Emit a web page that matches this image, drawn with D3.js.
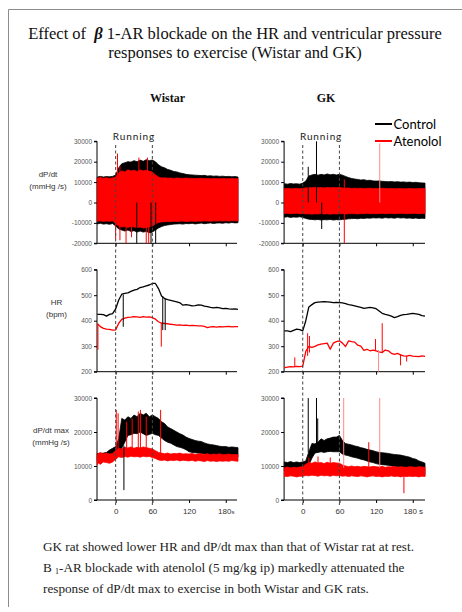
<!DOCTYPE html>
<html>
<head>
<meta charset="utf-8">
<script src="https://cdn.jsdelivr.net/npm/d3@7/dist/d3.min.js"></script>
<style>
  html, body { margin: 0; padding: 0; background: #fff; }
  svg { display: block; }
</style>
</head>
<body>
<svg id="chart" width="462" height="612"></svg>
<script>
// ---- time grid (s, running starts at 0 and stops at 60) ----
const seconds = [-30, -25, -20, -15, -10, -5,
  0, 5, 10, 15, 20, 25, 30, 35, 40, 45, 50, 55,
  60, 65, 70, 75, 80, 85, 90, 95, 100, 105, 110, 115,
  120, 125, 130, 135, 140, 145, 150, 155, 160, 165, 170, 175,
  180, 185, 190, 195, 200];
const runningMarks = [0, 60];
const xTicks = [0, 60, 120, 180];
const dpdtTicks = [30000, 20000, 10000, 0, -10000, -20000];
const hrTicks = [600, 500, 400, 300, 200];
const dpdtMaxTicks = [30000, 20000, 10000, 0];
const groups = ["Wistar", "GK"];
const seriesNames = ["Control", "Atenolol"];

// ---- Wistar dP/dt envelope (mmHg/s) ----
const wistarDpdtCtrlHi = [12500, 12800, 12500, 12700, 12600, 12800,
  13500, 17000, 19000, 19500, 20000, 19800, 20500, 20000, 20800, 20200, 21000, 20500,
  20800, 20000, 18500, 17500, 17000, 16200, 15800, 15200, 15000, 14500, 14200, 13800,
  13600, 13500, 13400, 13300, 13200, 13300, 13000, 13100, 12900, 13000, 12800, 12900,
  12700, 12800, 12600, 12700, 12500];
const wistarDpdtCtrlLo = [-10500, -10200, -10600, -10400, -10700, -10300,
  -11500, -13000, -13500, -14000, -13500, -14200, -13800, -14500, -14000, -14500, -14200, -14800,
  -14500, -13500, -12500, -11800, -11300, -11000, -10800, -10600, -10500, -10400, -10600, -10300,
  -10400, -10200, -10500, -10300, -10100, -10400, -10200, -10000, -10300, -10100, -10000, -10200,
  -9900, -10100, -9800, -10000, -9900];
const wistarDpdtAtenHi = [12000, 12200, 11900, 12100, 11800, 12000,
  12500, 14500, 15500, 15000, 16000, 15500, 15800, 15200, 16000, 15500, 15800, 15300,
  15000, 13500, 12500, 12000, 12100, 11900, 12000, 11800, 12000, 11900, 11800, 12000,
  11800, 11900, 11700, 11800, 11900, 11700, 11800, 11600, 11800, 11700, 11600, 11800,
  11700, 11600, 11800, 11600, 11700];
const wistarDpdtAtenLo = [-9200, -9000, -9300, -9100, -9200, -9000,
  -10500, -11500, -12000, -11800, -12200, -11800, -12000, -12300, -12000, -12500, -12200, -12000,
  -11500, -10500, -9800, -9500, -9400, -9300, -9400, -9200, -9300, -9200, -9100, -9300,
  -9200, -9100, -9300, -9100, -9200, -9000, -9100, -9200, -9000, -9100, -9000, -9100,
  -9000, -9100, -8900, -9000, -9000];
// spikes: [time, from, to]
const wistarDpdtCtrlSpikes = [[34.5, -20000, 0], [57.8, -20000, 0], [65.4, -20000, 0]];
const wistarDpdtAtenSpikes = [[3, 0, 24000], [7, 0, 18000], [38, 0, 22000], [52, 0, 22000],
  [0, -18000, 0], [7, -18500, 0], [17, -20000, 0], [26, -17000, 0], [50, -20000, 0], [54, -20000, 0]];

// ---- GK dP/dt envelope (mmHg/s) ----
const gkDpdtCtrlHi = [9200, 9000, 9300, 9100, 9200, 9000,
  9500, 10500, 13000, 13500, 13800, 13400, 13800, 13500, 14000, 13600, 13800, 13500,
  13800, 13400, 12800, 12200, 11800, 11500, 11300, 11000, 11200, 10800, 10900, 10600,
  10500, 10600, 10400, 10300, 10200, 10300, 10100, 10200, 10000, 10100, 9900, 10000,
  9800, 9900, 9700, 9600, 9500];
const gkDpdtCtrlLo = [-7200, -7000, -7300, -7100, -7200, -7000,
  -7300, -7800, -8200, -8300, -8500, -8300, -8600, -8400, -8500, -8300, -8600, -8400,
  -8500, -8300, -8200, -8000, -7900, -7800, -8000, -7700, -7800, -7600, -7700, -7500,
  -7600, -7500, -7700, -7400, -7600, -7500, -7700, -7400, -7600, -7500, -7700, -7600,
  -7800, -7600, -7900, -7700, -7800];
const gkDpdtAtenHi = [6800, 6900, 6700, 6800, 6900, 6700,
  6900, 7100, 7300, 7200, 7400, 7200, 7300, 7100, 7400, 7200, 7300, 7200,
  7300, 7100, 7000, 7100, 6900, 7000, 6900, 7000, 6800, 6900, 7000, 6800,
  6900, 6800, 7000, 6900, 6800, 6900, 6700, 6800, 6900, 6700, 6800, 6900,
  6800, 6700, 6800, 6900, 6800];
const gkDpdtAtenLo = [-5400, -5300, -5500, -5400, -5300, -5500,
  -5400, -5600, -5500, -5700, -5500, -5600, -5400, -5600, -5500, -5700, -5500, -5600,
  -5500, -5400, -5600, -5500, -5400, -5500, -5600, -5400, -5500, -5300, -5500, -5400,
  -5500, -5400, -5300, -5500, -5400, -5300, -5500, -5400, -5300, -5400, -5500, -5400,
  -5400, -5300, -5500, -5400, -5400];
const gkDpdtCtrlSpikes = [[9, 0, 17500], [22.5, 0, 30000], [31, -13000, 0]];
const gkDpdtAtenSpikes = [[68, -20000, 11300]];
const gkDpdtAtenFaintSpikes = [[126, 0, 29000]];

// ---- Heart rate (bpm) ----
const wistarHrCtrl = [425, 425, 424, 418, 425, 428,
  446, 481, 504, 507, 509, 515, 520, 523, 530, 533, 537, 540,
  546, 546, 526, 497, 487, 483, 480, 477, 474, 470, 461, 463,
  461, 458, 459, 462, 461, 457, 455, 452, 450, 452, 450, 447,
  448, 446, 445, 446, 444];
const wistarHrAten = [388, 377, 370, 367, 366, 363,
  364, 390, 405, 410, 413, 414, 416, 415, 413, 416, 414, 415,
  412, 406, 396, 390, 389, 388, 386, 385, 383, 384, 382, 383,
  381, 382, 381, 380, 380, 378, 373, 376, 377, 375, 377, 376,
  377, 378, 376, 377, 377];
const wistarHrCtrlSpikes = [[12.4, 376, 503], [77, 363, 495], [81, 363, 487]];
const wistarHrAtenSpikes = [[-29, 286, 388], [74.6, 298, 392]];

const gkHrCtrl = [360, 360, 357, 362, 367, 365,
  360, 400, 454, 463, 471, 473, 474, 475, 474, 473, 471, 472,
  471, 470, 467, 463, 461, 458, 455, 452, 448, 450, 452, 450,
  447, 438, 429, 425, 422, 418, 412, 416, 421, 424, 425, 427,
  429, 427, 425, 420, 418];
const gkHrAten = [216, 218, 220, 219, 221, 220,
  222, 280, 299, 295, 299, 305, 308, 310, 312, 288, 312, 318,
  321, 312, 299, 321, 318, 316, 304, 300, 284, 288, 282, 285,
  282, 278, 275, 285, 282, 272, 268, 272, 266, 262, 261, 264,
  261, 260, 259, 262, 260];
const gkHrAtenSpikes = [[-13, 220, 256], [8, 262, 351], [11, 275, 340], [119, 282, 328],
  [130, 275, 390], [160, 225, 268], [170, 240, 262]];
const gkHrAtenFaintSpikes = [[124, 200, 285]];

// ---- dP/dt max band (mmHg/s) ----
const wistarMaxCtrlHi = [13700, 13500, 13800, 14000, 14700, 15200,
  15700, 18000, 24000, 23500, 24500, 24000, 25000, 24500, 25500, 25000, 25500, 24500,
  25000, 24500, 24000, 23000, 22500, 21500, 21000, 20500, 20000, 19500, 19100, 18500,
  18100, 17800, 17500, 17300, 17200, 16800, 16500, 16300, 16200, 16000, 15800, 15700,
  15700, 15500, 15600, 15500, 15400];
const wistarMaxCtrlLo = [11800, 12000, 11900, 12200, 12700, 13200,
  13700, 14200, 15200, 17000, 19000, 19200, 19600, 19500, 20000, 19500, 19000, 19300,
  19600, 19200, 19000, 18200, 17500, 17000, 16700, 16200, 15700, 15500, 15200, 14800,
  14200, 14000, 13900, 13800, 13700, 13500, 13400, 13300, 13200, 13000, 12900, 12800,
  12700, 12800, 12700, 12800, 12700];
const wistarMaxAtenHi = [13500, 14000, 13600, 13800, 13500, 13700,
  14500, 15200, 15000, 15500, 15300, 15600, 15200, 15500, 15300, 15600, 15400, 15200,
  15000, 14500, 14000, 13800, 13600, 13800, 13500, 13700, 13600, 13800, 13500, 13600,
  13500, 13700, 13400, 13600, 13500, 13400, 13600, 13300, 13500, 13400, 13600, 13300,
  13400, 13500, 13300, 13400, 13300];
const wistarMaxAtenLo = [11000, 10500, 11200, 11000, 10800, 11200,
  12000, 12700, 12500, 12800, 12600, 12900, 12700, 12800, 12600, 12900, 12700, 12800,
  12500, 12200, 11800, 11600, 11800, 11500, 11700, 11600, 11800, 11500, 11700, 11600,
  11500, 11700, 11400, 11600, 11500, 11300, 11600, 11400, 11500, 11300, 11500, 11400,
  11500, 11400, 11600, 11500, 11400];
const wistarMaxCtrlSpikes = [[13.5, 2900, 16000]];
const wistarMaxAtenSpikes = [[-30, 10200, 13000], [1, 13000, 26500], [4, 13000, 25500],
  [18, 13500, 23000], [27, 13500, 24000], [37, 13500, 26000], [40.5, 13500, 26500],
  [50, 13500, 24500], [73.5, 12500, 26500]];

const gkMaxCtrlHi = [11200, 11000, 11300, 11000, 11200, 11000,
  11200, 11500, 14200, 16600, 16500, 17000, 18000, 17500, 18000, 18200, 18500, 18500,
  19000, 17500, 16600, 16400, 16200, 15900, 15700, 15400, 15200, 14900, 14700, 14500,
  14200, 14000, 13900, 13800, 13700, 13500, 13400, 13300, 13200, 13000, 12800, 12600,
  12200, 12000, 11500, 11200, 10800];
const gkMaxCtrlLo = [8500, 8300, 8600, 8400, 8500, 8300,
  8600, 9000, 10300, 12300, 13800, 14000, 14200, 14000, 14200, 14300, 14200, 14200,
  14200, 13500, 13200, 13000, 12700, 12500, 12300, 12000, 11800, 11500, 11200, 11000,
  10700, 10500, 10400, 10300, 10200, 10000, 9900, 9800, 9700, 9500, 9400, 9300,
  9200, 8800, 8000, 7400, 7200];
const gkMaxAtenHi = [9500, 9700, 9400, 9600, 9500, 9700,
  9800, 10500, 11000, 10800, 11200, 10900, 11000, 10700, 11100, 10800, 11000, 10900,
  10800, 10300, 10000, 9800, 10000, 9800, 9900, 9700, 9900, 9800, 9700, 9900,
  9800, 9700, 9900, 9600, 9800, 9700, 9900, 9600, 9800, 9700, 9600, 9800,
  9700, 9600, 9800, 9700, 9600];
const gkMaxAtenLo = [7000, 6900, 7100, 7000, 6800, 7000,
  7000, 7200, 7100, 7300, 7200, 7000, 7300, 7100, 7200, 7000, 7300, 7100,
  7200, 7000, 7100, 6900, 7100, 7000, 6900, 7100, 7000, 6800, 7000, 7100,
  6900, 7000, 6800, 7000, 6900, 7100, 6900, 7000, 6800, 7000, 6900, 7000,
  6900, 7000, 6800, 7000, 6900];
const gkMaxCtrlSpikes = [[9, 14000, 30000], [22.5, 16000, 30000], [24.5, 16000, 24000]];
const gkMaxAtenSpikes = [[10, 9500, 12500], [25, 9500, 12800], [45, 9500, 12500],
  [108, 9500, 17000], [165.5, 2000, 7000]];
const gkMaxAtenFaintSpikes = [[67, 9500, 30000], [126, 9500, 30000]];

// ---- drawing ----
const svg = d3.select("#chart");
const CTRL = "#000000", ATEN = "#ff0000", ATEN_FAINT = "#ff8a8a";
const SANS = "'Liberation Sans', Arial, sans-serif";
const SERIF = "'Liberation Serif', 'Times New Roman', serif";

// outer frame
svg.append("line").attr("x1", 8.5).attr("x2", 462).attr("y1", 9.5).attr("y2", 9.5)
  .attr("stroke", "#8c8c8c").attr("stroke-width", 1);
svg.append("line").attr("x1", 8.5).attr("x2", 8.5).attr("y1", 9.5).attr("y2", 607)
  .attr("stroke", "#8c8c8c").attr("stroke-width", 1);

// title
const title = svg.append("text").attr("x", 235).attr("y", 39).attr("text-anchor", "middle")
  .attr("font-family", SERIF).attr("font-size", 16.5).attr("fill", "#111");
title.append("tspan").text("Effect of ");
title.append("tspan").attr("dx", 4).attr("font-style", "italic").attr("font-weight", "bold").text("β");
title.append("tspan").text(" 1-AR blockade on the HR and ventricular pressure");
svg.append("text").attr("x", 235).attr("y", 57.5).attr("text-anchor", "middle")
  .attr("font-family", SERIF).attr("font-size", 16.5).attr("fill", "#111")
  .text("responses to exercise (Wistar and GK)");

// group headers
const groupX = [167.5, 326];
groups.forEach((g, i) => {
  svg.append("text").attr("x", groupX[i]).attr("y", 101.5).attr("text-anchor", "middle")
    .attr("font-family", SERIF).attr("font-weight", "bold").attr("font-size", 12).attr("fill", "#111")
    .text(g);
});

// legend
const legendRows = [{ name: seriesNames[0], color: CTRL, y: 124 }, { name: seriesNames[1], color: ATEN, y: 141 }];
legendRows.forEach(r => {
  svg.append("line").attr("x1", 375).attr("x2", 392).attr("y1", r.y).attr("y2", r.y)
    .attr("stroke", r.color).attr("stroke-width", 2);
  svg.append("text").attr("x", 393.5).attr("y", r.y + 4.5)
    .attr("font-family", "Lato, 'Liberation Sans', sans-serif").attr("font-size", 13).attr("fill", "#000")
    .text(r.name);
});

// panel geometry
const columns = [
  { x0: 97.3, x1: 238, axisEnd: 237, key: "wistar", last: "s" },
  { x0: 284.4, x1: 425, axisEnd: 425, key: "gk", last: " s" }
];
const rows = [
  { y0: 243.3, y1: 141.3, domain: [-20000, 30000], ticks: dpdtTicks, title: ["dP/dt", "(mmHg /s)"], titleX: 48, titleY: [177, 189] },
  { y0: 371.7, y1: 269.7, domain: [200, 600], ticks: hrTicks, title: ["HR", "(bpm)"], titleX: 56.5, titleY: [304.5, 316.5] },
  { y0: 500, y1: 398, domain: [0, 30000], ticks: dpdtMaxTicks, title: ["dP/dt max", "(mmHg /s)"], titleX: 51, titleY: [433, 445] }
];

const data = {
  wistar: [
    { bands: [[wistarDpdtCtrlLo, wistarDpdtCtrlHi, CTRL], [wistarDpdtAtenLo, wistarDpdtAtenHi, ATEN]],
      spikes: [[wistarDpdtCtrlSpikes, CTRL], [wistarDpdtAtenSpikes, ATEN]] },
    { lines: [[wistarHrCtrl, CTRL], [wistarHrAten, ATEN]],
      spikes: [[wistarHrCtrlSpikes, CTRL], [wistarHrAtenSpikes, ATEN]] },
    { bands: [[wistarMaxCtrlLo, wistarMaxCtrlHi, CTRL], [wistarMaxAtenLo, wistarMaxAtenHi, ATEN]],
      spikes: [[wistarMaxCtrlSpikes, CTRL], [wistarMaxAtenSpikes, ATEN]] }
  ],
  gk: [
    { bands: [[gkDpdtCtrlLo, gkDpdtCtrlHi, CTRL], [gkDpdtAtenLo, gkDpdtAtenHi, ATEN]],
      spikes: [[gkDpdtCtrlSpikes, CTRL], [gkDpdtAtenSpikes, ATEN], [gkDpdtAtenFaintSpikes, ATEN_FAINT]] },
    { lines: [[gkHrCtrl, CTRL], [gkHrAten, ATEN]],
      spikes: [[gkHrAtenSpikes, ATEN], [gkHrAtenFaintSpikes, ATEN_FAINT]] },
    { bands: [[gkMaxCtrlLo, gkMaxCtrlHi, CTRL], [gkMaxAtenLo, gkMaxAtenHi, ATEN]],
      spikes: [[gkMaxCtrlSpikes, CTRL], [gkMaxAtenSpikes, ATEN], [gkMaxAtenFaintSpikes, ATEN_FAINT]] }
  ]
};

columns.forEach((col, ci) => {
  const x = d3.scaleLinear().domain([-30, 200]).range([col.x0, col.x1]);
  rows.forEach((row, ri) => {
    const y = d3.scaleLinear().domain(row.domain).range([row.y0, row.y1]);
    const g = svg.append("g");
    const panel = data[col.key][ri];

    // y axis
    const ya = g.append("g").attr("transform", `translate(${col.x0 - 0.3},0)`)
      .call(d3.axisLeft(y).tickValues(row.ticks).tickSize(3).tickPadding(2).tickFormat(d => String(d)));
    ya.select(".domain").attr("stroke", "#000").attr("d", `M-3,${row.y0}H0V${row.y1}H-3`);
    ya.selectAll(".tick line").attr("stroke", "#000");
    ya.selectAll(".tick text").attr("font-family", SANS).attr("font-size", 6.5).attr("fill", "#555");

    // x axis
    const xa = g.append("g").attr("transform", `translate(0,${row.y0})`)
      .call(d3.axisBottom(x).tickValues(xTicks).tickSize(3).tickPadding(5)
        .tickFormat(d => ri === 2 ? String(d) : ""));
    xa.select(".domain").attr("stroke", "#000").attr("d", `M${col.x0 - 0.3},0H${col.axisEnd}`);
    xa.selectAll(".tick line").attr("stroke", "#000");
    xa.selectAll(".tick text").attr("font-family", SANS).attr("font-size", 8).attr("fill", "#333");
    if (ri === 2) {
      xa.selectAll(".tick text").filter(d => d === 180).append("tspan")
        .attr("font-size", col.last === "s" ? 6 : 8).text(col.last);
    }

    const layer = g.append("g");
    // dense envelope bands
    (panel.bands || []).forEach(([lo, hi, color]) => {
      const pts = seconds.map((t, i) => ({ t, lo: lo[i], hi: hi[i] }));
      layer.append("path").datum(pts)
        .attr("d", d3.area().x(d => x(d.t)).y0(d => y(d.lo)).y1(d => y(d.hi)))
        .attr("fill", color).attr("stroke", color).attr("stroke-width", 0.8);
    });
    // continuous traces
    (panel.lines || []).forEach(([vals, color]) => {
      const pts = seconds.map((t, i) => ({ t, v: vals[i] }));
      layer.append("path").datum(pts)
        .attr("d", d3.line().x(d => x(d.t)).y(d => y(d.v)))
        .attr("fill", "none").attr("stroke", color).attr("stroke-width", 1.3).attr("stroke-linejoin", "round");
    });
    // transient spikes
    (panel.spikes || []).forEach(([list, color]) => {
      layer.selectAll(null).data(list).join("line")
        .attr("x1", d => x(d[0])).attr("x2", d => x(d[0]))
        .attr("y1", d => y(d[1])).attr("y2", d => y(d[2]))
        .attr("stroke", color).attr("stroke-width", 1);
    });

    // y title (left column only)
    if (ci === 0) {
      row.title.forEach((t, k) => {
        svg.append("text").attr("x", row.titleX).attr("y", row.titleY[k]).attr("text-anchor", "middle")
          .attr("font-family", SANS).attr("font-size", 8).attr("fill", "#333").text(t);
      });
    }
  });

  // running period markers
  runningMarks.forEach(t => {
    svg.append("line").attr("x1", x(t)).attr("x2", x(t)).attr("y1", 145).attr("y2", 505)
      .attr("stroke", "#444").attr("stroke-width", 1).attr("stroke-dasharray", "3,2.5");
  });
  svg.append("text").attr("x", (x(0) + x(60)) / 2).attr("y", 139.5).attr("text-anchor", "middle")
    .attr("font-family", "Lato, 'Liberation Sans', sans-serif").attr("font-size", 10)
    .attr("letter-spacing", 0.9).attr("fill", "#222").text("Running");
});

// caption
const capX = 43;
const CAP_SIZE = 13.2;
svg.append("text").attr("x", capX).attr("y", 551).attr("font-family", SERIF).attr("font-size", CAP_SIZE).attr("fill", "#222")
  .text("GK rat showed lower HR and dP/dt max than that of Wistar rat at rest.");
const cap2 = svg.append("text").attr("x", capX).attr("y", 572).attr("font-family", SERIF).attr("font-size", CAP_SIZE).attr("fill", "#222");
cap2.append("tspan").text("B ");
cap2.append("tspan").attr("font-size", 8).attr("dy", 2).text("1");
cap2.append("tspan").attr("dy", -2).text("-AR blockade with atenolol (5 mg/kg ip) markedly attenuated the");
svg.append("text").attr("x", capX).attr("y", 593).attr("font-family", SERIF).attr("font-size", CAP_SIZE).attr("fill", "#222")
  .text("response of dP/dt max to exercise in both Wistar and GK rats.");
</script>
</body>
</html>
